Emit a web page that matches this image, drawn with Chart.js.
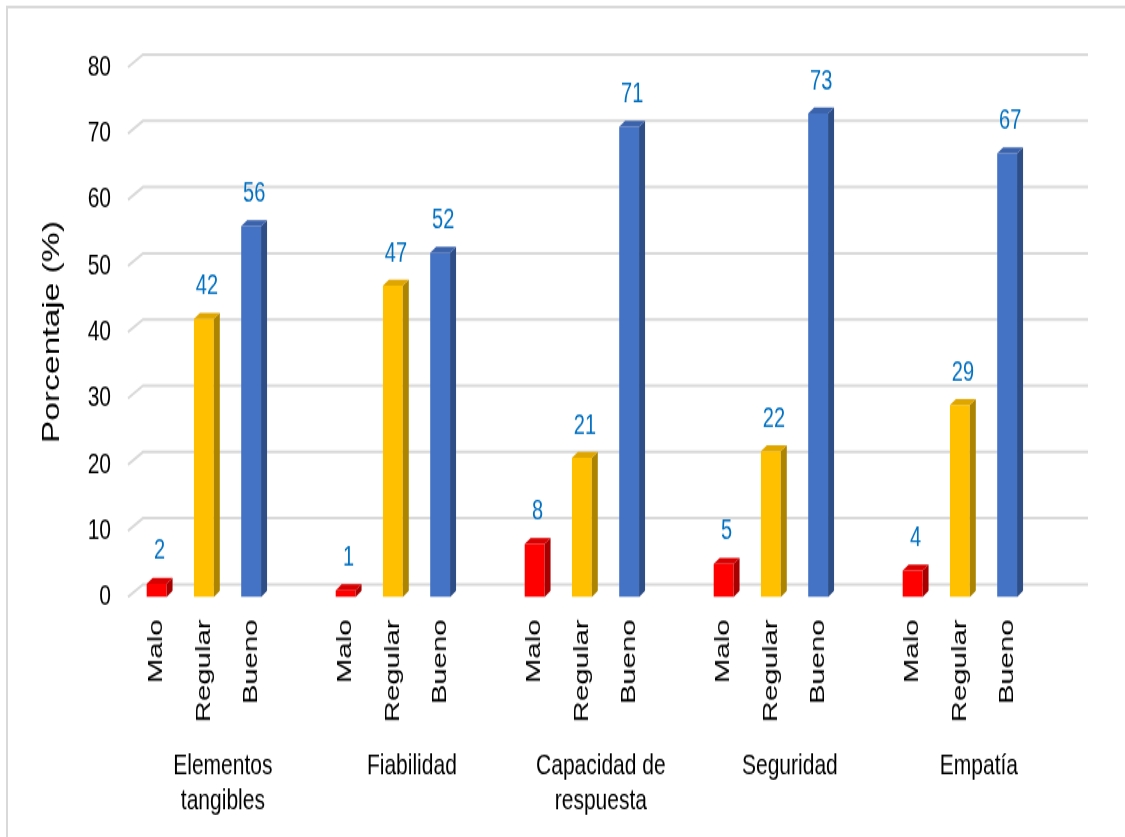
<!DOCTYPE html>
<html>
<head>
<meta charset="utf-8">
<script src="https://cdn.jsdelivr.net/npm/chart.js@4"></script>
<style>
  html, body { margin: 0; padding: 0; background: #fff; overflow: hidden; }
  #wrap { position: absolute; left: 0; top: 0; width: 1125px; height: 598px; transform: scaleY(1.4); transform-origin: 0 0; }
</style>
</head>
<body>
<div id="wrap"><canvas id="chart"></canvas></div>
<script>
const categories = [['Elementos', 'tangibles'], 'Fiabilidad', ['Capacidad de', 'respuesta'], 'Seguridad', 'Empatía'];
const levels = ['Malo', 'Regular', 'Bueno'];
const malo = [2, 1, 8, 5, 4];
const regular = [42, 47, 21, 22, 29];
const bueno = [56, 52, 71, 73, 67];
const yTicks = [0, 10, 20, 30, 40, 50, 60, 70, 80];

const frontColors = ['#FF0000', '#FFC000', '#4472C4'];
const sideColors = ['#A80000', '#AD8400', '#2E4E88'];
const topColors = ['#D80000', '#E0A600', '#3B63AC'];

// one slot per bar plus an empty slot between groups
const slotLabels = [];
const groupLabels = [];
const values = [];
const slotLevel = [];
categories.forEach((c, i) => {
    [malo[i], regular[i], bueno[i]].forEach((v, j) => {
        values.push(v);
        slotLabels.push(levels[j]);
        groupLabels.push(j === 1 ? c : '');
        slotLevel.push(j);
    });
    values.push(null);
    slotLabels.push('');
    groupLabels.push('');
    slotLevel.push(0);
});

const FONT = 'Liberation Sans, Arial, sans-serif';
const DX = 6, DY = 4.3;       // bar depth
const GX = 15, GY = 9;        // wall depth

const look3d = {
    id: 'look3d',
    beforeDraw(chart) {
        const ctx = chart.ctx;
        ctx.save();
        ctx.strokeStyle = '#d9d9d9';
        ctx.lineWidth = 2;
        ctx.beginPath();
        ctx.moveTo(7, chart.height);
        ctx.lineTo(7, 5);
        ctx.lineTo(chart.width, 5);
        ctx.stroke();
        ctx.restore();
    },
    beforeDatasetsDraw(chart) {
        const ctx = chart.ctx, y = chart.scales.y, a = chart.chartArea;
        ctx.save();
        ctx.strokeStyle = '#d9d9d9';
        ctx.lineWidth = 2;
        y.ticks.forEach(t => {
            const py = y.getPixelForValue(t.value);
            ctx.beginPath();
            ctx.moveTo(a.left - 5, py);
            ctx.lineTo(a.left - 5 + GX, py - GY);
            ctx.lineTo(a.right + 10, py - GY);
            ctx.stroke();
        });
        ctx.restore();
    },
    afterDatasetsDraw(chart) {
        const ctx = chart.ctx;
        const meta = chart.getDatasetMeta(0);
        ctx.save();
        meta.data.forEach((bar, i) => {
            if (values[i] === null) return;
            const p = bar.getProps(['x', 'y', 'base', 'width'], true);
            const l = p.x - p.width / 2, r = p.x + p.width / 2;
            const k = slotLevel[i];
            ctx.fillStyle = sideColors[k];
            ctx.beginPath();
            ctx.moveTo(r, p.y);
            ctx.lineTo(r + DX, p.y - DY);
            ctx.lineTo(r + DX, p.base - DY);
            ctx.lineTo(r, p.base);
            ctx.closePath();
            ctx.fill();
            ctx.fillStyle = topColors[k];
            ctx.beginPath();
            ctx.moveTo(l, p.y);
            ctx.lineTo(l + DX, p.y - DY);
            ctx.lineTo(r + DX, p.y - DY);
            ctx.lineTo(r, p.y);
            ctx.closePath();
            ctx.fill();
            ctx.fillStyle = '#0070C0';
            ctx.font = '20px ' + FONT;
            ctx.textAlign = 'center';
            ctx.textBaseline = 'middle';
            ctx.fillText(String(values[i]), p.x + DX / 2, p.y - 23);
        });
        ctx.restore();
    }
};

new Chart(document.getElementById('chart').getContext('2d'), {
    type: 'bar',
    data: {
        labels: slotLabels,
        datasets: [{
            data: values,
            backgroundColor: slotLevel.map(k => frontColors[k]),
            barPercentage: 0.42,
            categoryPercentage: 1
        }]
    },
    options: {
        responsive: true,
        maintainAspectRatio: false,
        animation: false,
        layout: { padding: { top: 48, right: 47, left: 0, bottom: 0 } },
        plugins: { legend: { display: false }, tooltip: { enabled: false } },
        scales: {
            y: {
                min: 0,
                max: 80,
                afterBuildTicks: s => { s.ticks = yTicks.map(v => ({ value: v })); },
                afterFit: s => { s.width = 133; },
                grid: { display: false, drawTicks: false },
                border: { display: false },
                ticks: { color: '#000', padding: 22, font: { family: FONT, size: 21 } },
                title: {
                    display: true,
                    text: 'Porcentaje (%)',
                    color: '#000',
                    font: { family: FONT, size: 24 },
                    padding: { top: 38, bottom: 0 }
                }
            },
            x: {
                weight: 0,
                afterFit: s => { s.height = 100; },
                grid: { display: false, drawTicks: false },
                border: { display: false },
                ticks: {
                    color: '#000', padding: 16, autoSkip: false,
                    minRotation: 90, maxRotation: 90,
                    font: { family: FONT, size: 21 }
                }
            },
            x2: {
                type: 'category',
                position: 'bottom',
                weight: 1,
                offset: true,
                labels: groupLabels,
                afterFit: s => { s.height = 71.6; },
                grid: { display: false, drawTicks: false },
                border: { display: false },
                ticks: {
                    color: '#000', padding: 8, autoSkip: false,
                    maxRotation: 0, minRotation: 0, labelOffset: 19,
                    font: { family: FONT, size: 21 }
                }
            }
        }
    },
    plugins: [look3d]
});
</script>
</body>
</html>
